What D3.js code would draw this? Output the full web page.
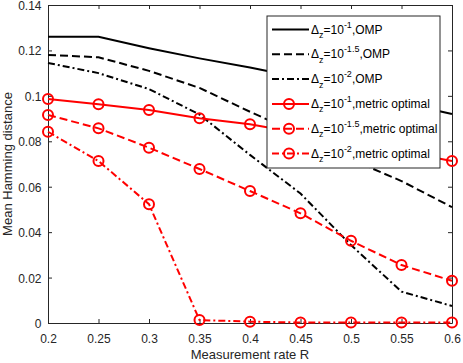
<!DOCTYPE html>
<html>
<head>
<meta charset="utf-8">
<script src="https://cdn.jsdelivr.net/npm/d3@7"></script>
<style>
body { margin: 0; background: #fff; }
text { font-family: "Liberation Sans", Arial, sans-serif; }
</style>
</head>
<body>
<svg id="chart"></svg>
<script>
const rates = [0.2, 0.25, 0.3, 0.35, 0.4, 0.45, 0.5, 0.55, 0.6]

const omp1 = [0.126, 0.126, 0.121, 0.1165, 0.1125, 0.108, 0.1025, 0.097, 0.092]
const omp15 = [0.118, 0.117, 0.111, 0.1035, 0.093, 0.083, 0.072, 0.0625, 0.051]
const omp2 = [0.1145, 0.110, 0.103, 0.0918, 0.074, 0.057, 0.0343, 0.0138, 0.0075]
const opt1 = [0.0986, 0.0963, 0.0938, 0.0901, 0.0875, 0.0835, 0.0795, 0.0755, 0.0713]
const opt15 = [0.0916, 0.0857, 0.0772, 0.0678, 0.0581, 0.0483, 0.0362, 0.0255, 0.0186]
const opt2 = [0.0842, 0.0713, 0.0523, 0.0013, 0.0006, 0.0002, 0.0002, 0.0002, 0.0002]

const xTicks = [0.2, 0.25, 0.3, 0.35, 0.4, 0.45, 0.5, 0.55, 0.6]
const yTicks = [0, 0.02, 0.04, 0.06, 0.08, 0.1, 0.12, 0.14]

const seriesNames = [
    { exp: "-1", tail: ",OMP" },
    { exp: "-1.5", tail: ",OMP" },
    { exp: "-2", tail: ",OMP" },
    { exp: "-1", tail: ",metric optimal" },
    { exp: "-1.5", tail: ",metric optimal" },
    { exp: "-2", tail: ",metric optimal" }
]

const series = [
    { values: omp1, color: "#000", dash: null, marker: false },
    { values: omp15, color: "#000", dash: "8,4", marker: false },
    { values: omp2, color: "#000", dash: "7,3,2,3", marker: false },
    { values: opt1, color: "#ff0000", dash: null, marker: true },
    { values: opt15, color: "#ff0000", dash: "8,4", marker: true },
    { values: opt2, color: "#ff0000", dash: "7,3,2,3", marker: true }
]

const width = 463
const height = 363
const margin = { top: 5, right: 11, bottom: 40, left: 48 }
const bodyWidth = width - margin.left - margin.right
const bodyHeight = height - margin.top - margin.bottom
const axisColor = "#262626"

const svg = d3.select("#chart")
    .attr("width", width)
    .attr("height", height)

const xScale = d3.scaleLinear()
    .domain([0.2, 0.6])
    .range([0, bodyWidth])

const yScale = d3.scaleLinear()
    .domain([0, 0.14])
    .range([bodyHeight, 0])

const body = svg.append("g")
    .attr("transform", `translate(${margin.left},${margin.top})`)

// axes with inward ticks on all four sides
function styleAxis(g) {
    g.select(".domain").attr("stroke", axisColor).attr("stroke-width", 1)
    g.selectAll(".tick line").attr("stroke", axisColor)
    g.selectAll(".tick text").attr("fill", axisColor).style("font-size", "12px")
        .style("font-family", "'Liberation Sans', Arial, sans-serif")
}

body.append("g")
    .attr("transform", `translate(0,${bodyHeight})`)
    .call(d3.axisBottom(xScale).tickValues(xTicks).tickSize(-4).tickPadding(11.5)
        .tickFormat(d3.format("")).tickSizeOuter(0))
    .call(styleAxis)

body.append("g")
    .call(d3.axisTop(xScale).tickValues(xTicks).tickSize(-4).tickFormat("").tickSizeOuter(0))
    .call(styleAxis)

body.append("g")
    .call(d3.axisLeft(yScale).tickValues(yTicks).tickSize(-4).tickPadding(6.5)
        .tickFormat(d3.format("")).tickSizeOuter(0))
    .call(styleAxis)
    .call(g => g.selectAll(".tick text").attr("dy", "0.38em"))

body.append("g")
    .attr("transform", `translate(${bodyWidth},0)`)
    .call(d3.axisRight(yScale).tickValues(yTicks).tickSize(-4).tickFormat("").tickSizeOuter(0))
    .call(styleAxis)

svg.append("text")
    .attr("x", margin.left + bodyWidth / 2)
    .attr("y", height - 4)
    .attr("text-anchor", "middle")
    .attr("fill", axisColor)
    .style("font-size", "13px")
    .text("Measurement rate R")

svg.append("text")
    .attr("transform", `translate(12,${margin.top + bodyHeight / 2}) rotate(-90)`)
    .attr("text-anchor", "middle")
    .attr("fill", axisColor)
    .style("font-size", "13px")
    .text("Mean Hamming distance")

const lineGenerator = d3.line()
    .x((d, i) => xScale(rates[i]))
    .y(d => yScale(d))

series.forEach(s => {
    body.append("path")
        .datum(s.values)
        .attr("d", lineGenerator)
        .attr("fill", "none")
        .attr("stroke", s.color)
        .attr("stroke-width", 2)
        .attr("stroke-dasharray", s.dash)
    if (s.marker) {
        body.selectAll(null)
            .data(s.values)
            .enter()
            .append("circle")
            .attr("cx", (d, i) => xScale(rates[i]))
            .attr("cy", d => yScale(d))
            .attr("r", 5)
            .attr("fill", "none")
            .attr("stroke", s.color)
            .attr("stroke-width", 2)
    }
})

// legend
const legend = svg.append("g").attr("transform", "translate(267,16)")
legend.append("rect")
    .attr("width", 173)
    .attr("height", 152)
    .attr("fill", "#fff")
    .attr("stroke", axisColor)
    .attr("stroke-width", 1)

series.forEach((s, i) => {
    const y = 13.5 + i * 24.8
    const row = legend.append("g").attr("transform", `translate(0,${y})`)
    row.append("line")
        .attr("x1", 5).attr("x2", 42)
        .attr("stroke", s.color)
        .attr("stroke-width", 2)
        .attr("stroke-dasharray", s.dash)
    if (s.marker) {
        row.append("circle")
            .attr("cx", 22).attr("r", 5)
            .attr("fill", "none")
            .attr("stroke", s.color)
            .attr("stroke-width", 2)
    }
    const t = row.append("text")
        .attr("x", 44)
        .attr("y", 4)
        .attr("fill", "#000")
        .style("font-size", "12px")
    t.append("tspan").text("\u0394")
    t.append("tspan").attr("dy", 4.5).style("font-size", "9px").text("z")
    t.append("tspan").attr("dy", -4.5).text("=10")
    t.append("tspan").attr("dy", -6).style("font-size", "9px").text(seriesNames[i].exp)
    t.append("tspan").attr("dy", 6).text(seriesNames[i].tail)
})
</script>
</body>
</html>
